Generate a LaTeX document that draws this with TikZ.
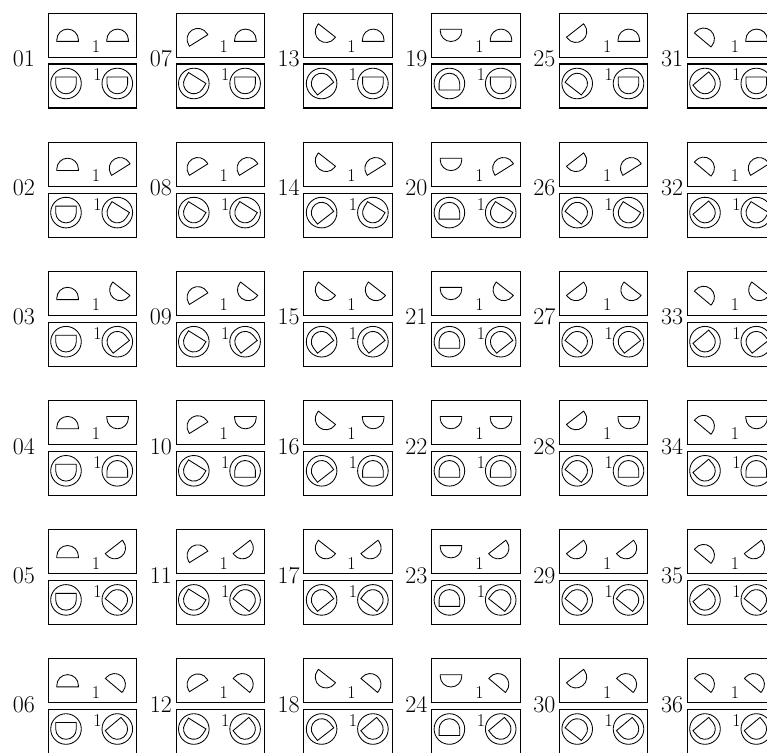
\documentclass[tikz,border=0pt]{standalone}
\begin{document}
\begin{tikzpicture}[x=1pt,y=1pt,
  boxst/.style={draw,line width=1.1pt,minimum width=88.4pt,minimum height=44pt,inner sep=0pt,outer sep=0pt,anchor=north west},
  shp/.style={draw,line width=0.85pt},
  lbl/.style={font=\fontsize{24}{28}\selectfont,inner sep=0pt,anchor=base east},
  one/.style={font=\fontsize{18}{20}\selectfont,inner sep=0pt}]
\useasboundingbox (0,0) rectangle (767,-752);
\def\angs{{90,122,232,270,308,50}}
\def\rt{10.8}\def\st{1.5}\def\ot{6.1}
\def\rb{10.3}\def\sb{6.5}\def\rc{15.3}
\foreach \c in {0,...,5}{
 \foreach \r in {0,...,5}{
  \pgfmathsetmacro\X{48.3+127.8*\c}
  \pgfmathsetmacro\Y{-(13.3+129.1*\r)}
  \pgfmathtruncatemacro\n{6*\c+\r+1}
  \pgfmathsetmacro\aL{\angs[\c]}
  \pgfmathsetmacro\aR{\angs[\r]}
  \pgfmathsetmacro\LX{\c==0 ? 35 : \X-4}
  % boxes
  \node[boxst] (t\n) at (\X,\Y) {};
  \node[boxst] (b\n) at (\X,\Y-50.7) {};
  % label
  \node[lbl] (l\n) at (\LX,\Y-53.4) {\ifnum\n<10 0\fi\n};
  % ones
  \node[one] (o\n) at (\X+47.7,\Y-33.4) {1};
  \node[one] (u\n) at (\X+49.2,\Y-61.7) {1};
  % top half discs
  \foreach \px/\a in {19.3/\aL,69.3/\aR}{
   \begin{scope}[shift={(\X+\px,\Y-22)},rotate=\a-90]
    \draw[shp] (-\rt,-\ot) -- (-\rt,-\ot+\st) arc[start angle=180,end angle=0,radius=\rt] -- (\rt,-\ot) -- cycle;
   \end{scope}
  }
  % bottom circles
  \foreach \px/\a in {17.7/\aL,69/\aR}{
   \begin{scope}[shift={(\X+\px,\Y-70.2)}]
    \draw[shp] (0,0) circle[radius=\rc];
    \begin{scope}[rotate=-\a-90]
     \draw[shp] (-\rb,-\sb) -- (-\rb,0) arc[start angle=180,end angle=0,radius=\rb] -- (\rb,-\sb) -- cycle;
    \end{scope}
   \end{scope}
  }
 }
}
\end{tikzpicture}
\end{document}
